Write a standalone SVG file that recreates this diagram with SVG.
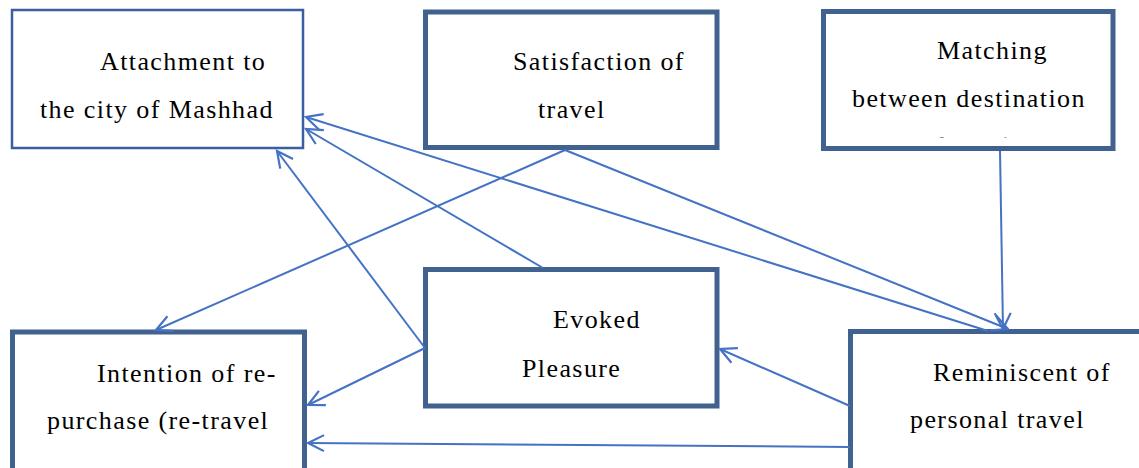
<svg xmlns="http://www.w3.org/2000/svg" width="1139" height="468" viewBox="0 0 1139 468">
<style>
.box{fill:#ffffff;stroke:#41618f;stroke-width:5}
.thin{fill:#ffffff;stroke:#3a5ea0;stroke-width:2.5}
.lbl{font-family:"Liberation Serif","Times New Roman",serif;font-size:26px;letter-spacing:1.4px;fill:#000000}
.con{fill:none;stroke:#4472c4;stroke-width:2;marker-end:url(#arr)}
</style>
<defs>
<marker id="arr" markerUnits="userSpaceOnUse" viewBox="-20 -12 24 24" refX="0" refY="0" markerWidth="24" markerHeight="24" orient="auto">
<path d="M-16,-8 L0,0 L-16,8" fill="none" stroke="#4472c4" stroke-width="2.2"/>
</marker>
<clipPath id="clipM"><rect x="820" y="0" width="300" height="137.5"/></clipPath>
</defs>
<g id="node-attachment">
<rect class="thin" x="12" y="10" width="291" height="138"/>
<text class="lbl" x="100" y="70">Attachment to</text>
<text class="lbl" x="40" y="118">the city of Mashhad</text>
</g>
<g id="node-satisfaction">
<rect class="box" x="425.5" y="12" width="291.5" height="135.5"/>
<text class="lbl" x="513" y="70">Satisfaction of</text>
<text class="lbl" x="538" y="118">travel</text>
</g>
<g id="node-matching">
<rect class="box" x="823.5" y="11.5" width="289.5" height="137"/>
<text class="lbl" x="937" y="59">Matching</text>
<text class="lbl" x="852" y="107">between destination</text>
<text class="lbl" x="905" y="153.5" clip-path="url(#clipM)">and tourism</text>
</g>
<g id="node-intention">
<rect class="box" x="12.5" y="332" width="292" height="140"/>
<text class="lbl" x="97" y="382">Intention of re-</text>
<text class="lbl" x="47" y="429">purchase (re-travel</text>
</g>
<g id="node-evoked">
<rect class="box" x="425.5" y="269.5" width="291.5" height="136.5"/>
<text class="lbl" x="553" y="328">Evoked</text>
<text class="lbl" x="522" y="377">Pleasure</text>
</g>
<g id="node-reminiscent">
<rect class="box" x="850.5" y="331.5" width="300" height="145"/>
<text class="lbl" x="933" y="381">Reminiscent of</text>
<text class="lbl" x="910" y="428">personal travel</text>
</g>
<g id="connectors">
<line class="con" x1="565" y1="150" x2="156" y2="330"/>
<line class="con" x1="565" y1="150" x2="1008" y2="329"/>
<line class="con" x1="988" y1="331" x2="306" y2="117"/>
<line class="con" x1="543" y1="268" x2="306" y2="129"/>
<line class="con" x1="425" y1="348" x2="277" y2="151"/>
<line class="con" x1="425" y1="348" x2="308" y2="405"/>
<line class="con" x1="1000" y1="151" x2="1003" y2="329"/>
<line class="con" x1="850" y1="406" x2="720" y2="349"/>
<line class="con" x1="850" y1="447" x2="308" y2="443"/>
</g>
</svg>
